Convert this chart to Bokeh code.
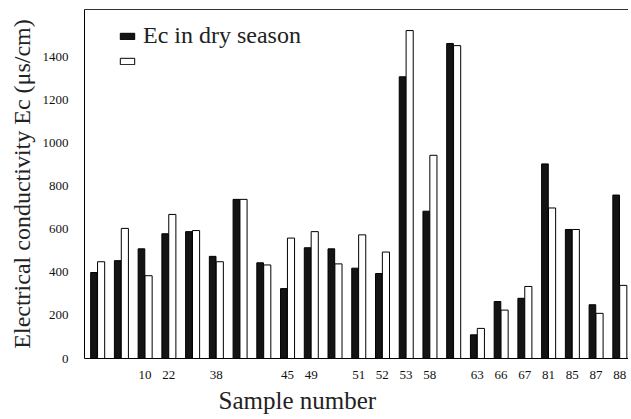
from bokeh.plotting import figure
from bokeh.models import LinearAxis, FixedTicker, Legend, LegendItem, Title, Range1d
from bokeh.embed import file_html
from bokeh.resources import INLINE

# ---- data ----
sample_labels = ["", "", "10", "22", "", "38", "", "", "45", "49", "", "51",
                 "52", "53", "58", "", "63", "66", "67", "81", "85", "87", "88"]
ec_dry = [400, 455, 510, 580, 590, 475, 740, 445, 325, 515, 510, 420,
          395, 1310, 685, 1465, 110, 265, 280, 905, 600, 250, 760]
ec_second = [450, 605, 385, 670, 595, 450, 740, 435, 560, 590, 440, 575,
             495, 1525, 945, 1455, 140, 225, 335, 700, 600, 210, 340]
y_ticks = [0, 200, 400, 600, 800, 1000, 1200, 1400]

x = list(range(1, len(sample_labels) + 1))
x_dry = [v - 0.15 for v in x]
x_sec = [v + 0.15 for v in x]

SERIF = "Liberation Serif"
INK = "#222222"

p = figure(width=628, height=419, output_backend="svg", toolbar_location=None,
           x_range=Range1d(0.45, 23.37), y_range=Range1d(0, 1623),
           min_border_left=84, min_border_right=0, min_border_top=9,
           min_border_bottom=61, outline_line_color=None,
           background_fill_color="white", border_fill_color="white")

r_dry = p.vbar(x=x_dry, top=ec_dry, width=0.28, fill_color="#141414",
               line_color="black", line_width=1)
r_sec = p.vbar(x=x_sec, top=ec_second, width=0.30, fill_color="white",
               line_color="black", line_width=1)

p.xgrid.visible = False
p.ygrid.visible = False

# y axis
ya = p.yaxis[0]
ya.ticker = FixedTicker(ticks=y_ticks)
ya.major_tick_out = 0
ya.major_tick_in = 0
ya.minor_tick_out = 0
ya.minor_tick_in = 0
ya.major_label_standoff = 16
ya.major_label_text_font = SERIF
ya.major_label_text_font_size = "13px"
ya.major_label_text_font_style = "normal"
ya.major_label_text_color = "#111111"
ya.axis_label = "Electrical conductivity Ec (\u03bcs/cm)"
ya.axis_label_text_font = SERIF
ya.axis_label_text_font_size = "24px"
ya.axis_label_text_font_style = "normal"
ya.axis_label_text_color = INK
ya.axis_label_standoff = 5
ya.axis_line_color = "black"

# x axis
xa = p.xaxis[0]
xa.ticker = FixedTicker(ticks=[xi for xi, s in zip(x, sample_labels) if s])
xa.major_label_overrides = {xi: s for xi, s in zip(x, sample_labels) if s}
xa.major_tick_out = 0
xa.major_tick_in = 0
xa.minor_tick_out = 0
xa.minor_tick_in = 0
xa.major_label_standoff = 12
xa.major_label_text_font = SERIF
xa.major_label_text_font_size = "13px"
xa.major_label_text_color = "#111111"
xa.axis_line_color = "black"

# top frame line (an unlabelled axis)
top_axis = LinearAxis(ticker=FixedTicker(ticks=[]), major_tick_out=0,
                      major_tick_in=0, minor_tick_out=0, minor_tick_in=0,
                      major_label_standoff=0, axis_line_color="#333333")
p.add_layout(top_axis, "above")

# x axis title, placed left of centre like the reference
p.add_layout(Title(text="Sample number", align="left", offset=134,
                   text_font=SERIF, text_font_size="25px",
                   text_font_style="normal", text_color=INK, standoff=6),
             "below")

legend = Legend(items=[LegendItem(label="Ec in dry season", renderers=[r_dry]),
                       LegendItem(label=" ", renderers=[r_sec])],
                location=(34, 287), orientation="vertical",
                label_text_font=SERIF, label_text_font_size="24px",
                label_text_color=INK, glyph_width=18, glyph_height=8,
                label_height=20, label_standoff=7, spacing=2, padding=0,
                margin=0, border_line_color=None, background_fill_alpha=0)
p.add_layout(legend, "center")

open("out.html", "w").write(file_html(p, INLINE))
